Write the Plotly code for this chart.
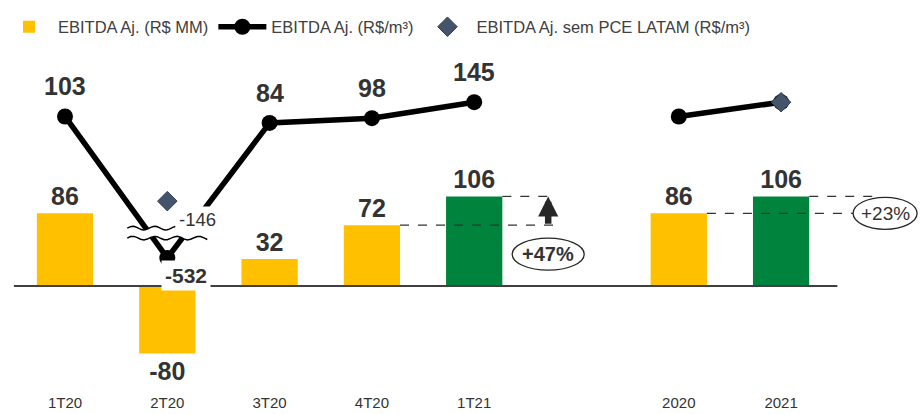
import math
import plotly.graph_objects as go

# ---------------- data ----------------
quarters = ["1T20", "2T20", "3T20", "4T20", "1T21"]
years = ["2020", "2021"]
ebitda_mm_q = [86, -80, 32, 72, 106]          # EBITDA Aj. (R$ MM)
ebitda_mm_y = [86, 106]
ebitda_m3_q = [103, -532, 84, 98, 145]        # EBITDA Aj. (R$/m³)
ebitda_m3_y = [103, 145]
ex_pce_cats = ["2T20", "2021"]                # EBITDA Aj. sem PCE LATAM (R$/m³)
ex_pce_vals = [-146, 145]
highlight = ["1T21", "2021"]

NAME_BAR = "EBITDA Aj. (R$ MM)"
NAME_LINE = "EBITDA Aj. (R$/m³)"
NAME_DIAM = "EBITDA Aj. sem PCE LATAM (R$/m³)"

# ---------------- style ----------------
ORANGE = "#FFC000"
GREEN = "#00843D"
BLUE = "#44546A"
TXT = "#333333"
SANS = "Liberation Sans, Arial, sans-serif"

W, H = 924, 414
M_T, M_B = 50, 22
PLOT_H = H - M_T - M_B
X_RANGE = [-0.6354, 8.397]
PX_PER_CAT = W / (X_RANGE[1] - X_RANGE[0])
BAR_W = 0.55

# bar axis: zero at 286px, 0.845 px/unit
Y_RANGE = [-(H - M_B - 286) / 0.845, (286 - M_T) / 0.845]
# line axis: zero at 151.5px, 0.34 px/unit
Y2_RANGE = [-(H - M_B - 151.5) / 0.34, (151.5 - M_T) / 0.34]

# broken axis for the line: interval [BREAK_LO, BREAK_HI] is skipped
BREAK_HI = -240
BREAK_LO = -459


def disp(v):
    return v if v >= BREAK_HI else v + (BREAK_HI - BREAK_LO)


cat_order = quarters + [" "] + years
def idx(c):
    return cat_order.index(c)

bar_cats = quarters + years
bar_vals = ebitda_mm_q + ebitda_mm_y
bar_colors = [GREEN if c in highlight else ORANGE for c in bar_cats]

fig = go.Figure()
fig.add_trace(go.Bar(
    x=bar_cats, y=bar_vals, name=NAME_BAR, width=BAR_W,
    marker=dict(color=bar_colors, line=dict(width=0)),
    text=[str(v) for v in bar_vals], textposition="outside",
    textfont=dict(family=SANS, size=25, color=TXT, weight="bold"),
    cliponaxis=False, constraintext="none", yaxis="y",
))

line_style = dict(color="black", width=5.5)
marker_style = dict(color="black", size=16)
fig.add_trace(go.Scatter(
    x=quarters, y=[disp(v) for v in ebitda_m3_q], name=NAME_LINE,
    mode="lines+markers", line=line_style, marker=marker_style,
    yaxis="y2", legendgroup="m3", cliponaxis=False,
))
fig.add_trace(go.Scatter(
    x=years, y=[disp(v) for v in ebitda_m3_y], name=NAME_LINE,
    mode="lines+markers", line=line_style, marker=marker_style,
    yaxis="y2", legendgroup="m3", showlegend=False, cliponaxis=False,
))
fig.add_trace(go.Scatter(
    x=ex_pce_cats, y=[disp(v) for v in ex_pce_vals], name=NAME_DIAM,
    mode="markers",
    marker=dict(symbol="diamond", size=15, color=BLUE, line=dict(color="#2E3D52", width=1)),
    yaxis="y2", cliponaxis=False,
))

shapes = []
annotations = []

# zero line
shapes.append(dict(type="line", xref="x", yref="y", x0=-0.5, x1=7.55, y0=0, y1=0,
                   line=dict(color="#404040", width=2), layer="above"))

# axis-break symbol on the line at 2T20
bx = idx("2T20")
def wave(x_from, x_to, y_off):
    pts = []
    n = 24
    for i in range(n + 1):
        xx = x_from + (x_to - x_from) * i / n
        yy = y_off + 1.8 * math.sin((xx - x_from) / 22 * 2 * math.pi)
        pts.append((xx, yy))
    return pts

up = wave(-40, 8, 5)
lo = wave(-40, 40, -5)
band = up + [(40, 5), (40, -5)] + lo[::-1]
band_path = "M" + " L".join(f"{x:.1f},{y:.1f}" for x, y in band) + " Z"
shapes.append(dict(type="path", xref="x", yref="y2", xsizemode="pixel", ysizemode="pixel",
                   xanchor=bx, yanchor=BREAK_HI, path=band_path,
                   fillcolor="white", line=dict(width=0), layer="above"))
for pts in (up, lo):
    shapes.append(dict(type="path", xref="x", yref="y2", xsizemode="pixel", ysizemode="pixel",
                       xanchor=bx, yanchor=BREAK_HI,
                       path="M" + " L".join(f"{x:.1f},{y:.1f}" for x, y in pts),
                       line=dict(color="black", width=1.5), layer="above"))

# line value labels
for cats, vals in ((quarters, ebitda_m3_q), (years, ebitda_m3_y)):
    for c, v in zip(cats, vals):
        if v >= 0:
            annotations.append(dict(x=c, y=disp(v), xref="x", yref="y2", text=str(v),
                                    showarrow=False, yshift=30,
                                    font=dict(family=SANS, size=25, color=TXT, weight="bold")))
        else:
            annotations.append(dict(x=c, y=disp(v), xref="x", yref="y2", text=str(v),
                                    showarrow=False, xshift=19, yshift=-18,
                                    bgcolor="white", borderpad=3,
                                    font=dict(family=SANS, size=21, color=TXT, weight="bold")))

# ex-PCE labels where they differ from the line value
line_lookup = dict(zip(quarters + years, ebitda_m3_q + ebitda_m3_y))
for c, v in zip(ex_pce_cats, ex_pce_vals):
    if line_lookup[c] != v:
        annotations.append(dict(x=c, y=disp(v), xref="x", yref="y2", text=str(v),
                                showarrow=False, xshift=30, yshift=-18,
                                bgcolor="white", borderpad=2,
                                font=dict(family=SANS, size=18.5, color=TXT)))

# growth comparisons
bar_lookup = dict(zip(bar_cats, bar_vals))
def growth(prev_cat, cur_cat, ell_dx, ell_anchor, ell_dy, bold, lo_end_px, hi_end_px, arrow):
    prev_v, cur_v = bar_lookup[prev_cat], bar_lookup[cur_cat]
    pct = (cur_v / prev_v - 1) * 100
    ci = idx(cur_cat)
    ex = ci + ell_dx / PX_PER_CAT
    dash = dict(color="#333333", width=1.2, dash="dash")
    shapes.append(dict(type="line", xref="x", yref="y", x0=idx(prev_cat) + BAR_W / 2,
                       x1=ci + lo_end_px / PX_PER_CAT, y0=prev_v, y1=prev_v, line=dash, layer="above"))
    shapes.append(dict(type="line", xref="x", yref="y", x0=ci + BAR_W / 2,
                       x1=ci + hi_end_px / PX_PER_CAT, y0=cur_v, y1=cur_v, line=dash, layer="above"))
    yv = bar_lookup[ell_anchor]
    shapes.append(dict(type="circle", xref="x", yref="y", xsizemode="pixel", ysizemode="pixel",
                       xanchor=ex, yanchor=yv, x0=-36 if bold else -32, x1=36 if bold else 32,
                       y0=ell_dy - 16, y1=ell_dy + 16,
                       line=dict(color="#262626", width=1.3), fillcolor="white", layer="above"))
    annotations.append(dict(x=ex, y=yv, xref="x", yref="y", showarrow=False, yshift=ell_dy,
                            text=f"+{pct:.0f}%",
                            font=dict(family=SANS, size=20 if bold else 19,
                                      color=TXT, weight="bold" if bold else "normal")))
    if arrow:
        annotations.append(dict(x=ex, y=cur_v, ax=ex, ay=prev_v, xref="x", yref="y",
                                axref="x", ayref="y", text="", showarrow=True,
                                arrowhead=2, arrowsize=0.62, arrowwidth=6.5,
                                arrowcolor="#262626", standoff=0, startstandoff=0))

growth("4T20", "1T21", 74, "4T20", -29, True, 81, 81, True)
growth("2020", "2021", 104, "2020", 0, False, 72, 92, False)

fig.update_layout(
    width=W, height=H,
    margin=dict(l=0, r=0, t=M_T, b=M_B, pad=0),
    paper_bgcolor="white", plot_bgcolor="white",
    bargap=0.45,
    showlegend=True,
    legend=dict(orientation="h", x=0, xanchor="left", y=1 + 23 / PLOT_H, yanchor="middle",
                font=dict(family=SANS, size=16.5, color="#404040"),
                itemwidth=48, bgcolor="rgba(0,0,0,0)"),
    xaxis=dict(type="category", categoryorder="array", categoryarray=cat_order,
               range=X_RANGE, showgrid=False, zeroline=False, showline=False, ticks="",
               tickfont=dict(family=SANS, size=15, color=TXT), fixedrange=True),
    yaxis=dict(range=Y_RANGE, visible=False, showgrid=False, zeroline=False, fixedrange=True),
    yaxis2=dict(range=Y2_RANGE, overlaying="y", visible=False, showgrid=False,
                zeroline=False, fixedrange=True),
    shapes=shapes, annotations=annotations,
)

fig.write_html("out.html", config={"displayModeBar": False},
               post_script="document.body.style.margin='0px';")
